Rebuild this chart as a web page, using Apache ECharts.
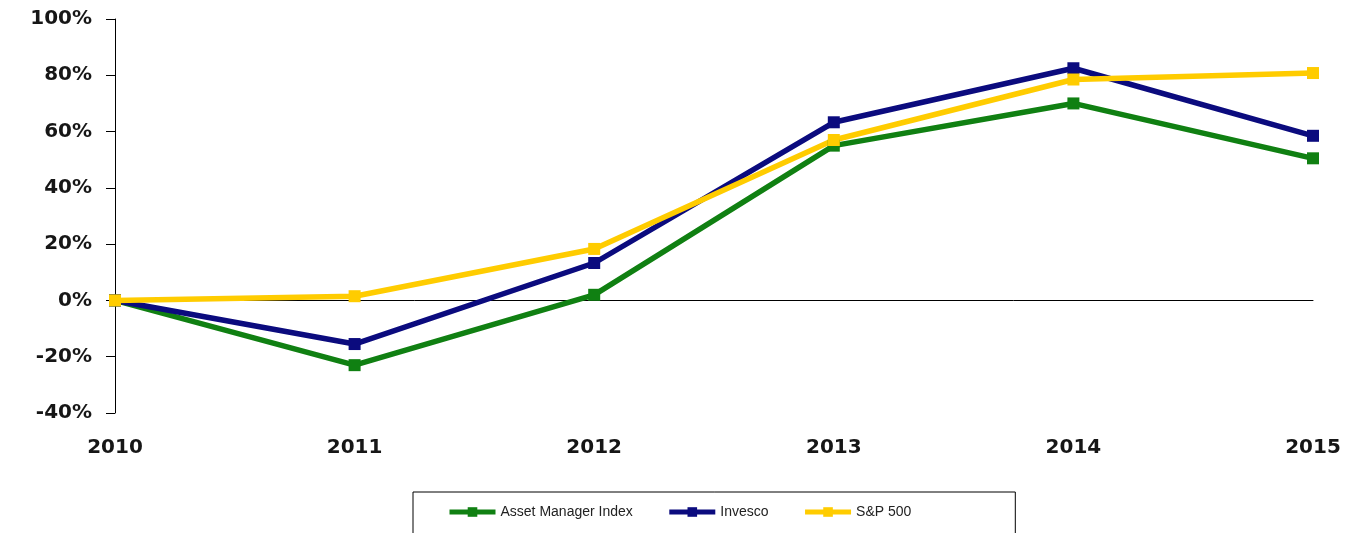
<!DOCTYPE html>
<html>
<head>
<meta charset="utf-8">
<script src="https://cdn.jsdelivr.net/npm/echarts@6/dist/echarts.min.js"></script>
<style>
html,body{margin:0;padding:0;background:#fff;}
#chart{width:1356px;height:533px;}
</style>
</head>
<body>
<div id="chart"></div>
<script>
var years = ['2010', '2011', '2012', '2013', '2014', '2015'];
var assetManagerIndex = [0, -23, 2, 55, 70, 50.5];
var invesco = [0, -15.5, 13.3, 63.3, 82.5, 58.5];
var sp500 = [0, 1.5, 18.3, 57, 78.5, 80.8];
var yTicks = { min: -40, max: 100, interval: 20 };

var axisFont = { fontFamily: 'DejaVu Sans', fontWeight: 'bold', fontSize: 20, color: '#161616' };

function mkSeries(name, data, color) {
  return {
    name: name,
    type: 'line',
    data: data,
    xAxisIndex: 0,
    symbol: 'rect',
    symbolSize: 12,
    lineStyle: { color: color, width: 5.5 },
    itemStyle: { color: color },
    emphasis: { disabled: true }
  };
}

var chart = echarts.init(document.getElementById('chart'), null, { renderer: 'canvas' });
chart.setOption({
  animation: false,
  backgroundColor: '#ffffff',
  grid: { left: 115, right: 43, top: 19, bottom: 120, containLabel: false },
  legend: {
    left: 413,
    top: 492,
    orient: 'horizontal',
    padding: [13, 104, 40, 34],
    borderColor: '#000',
    borderWidth: 1,
    itemWidth: 46,
    itemHeight: 12,
    itemGap: 34,
    lineStyle: { width: 5 },
    textStyle: { fontFamily: 'Liberation Sans', fontSize: 14, color: '#222' },
    data: ['Asset Manager Index', 'Invesco', 'S&P 500']
  },
  xAxis: [
    {
      type: 'category',
      data: years,
      boundaryGap: false,
      axisLine: { show: true, onZero: true, lineStyle: { color: '#000', width: 1 } },
      axisTick: { show: false },
      axisLabel: { show: false },
      splitLine: { show: false }
    },
    {
      type: 'category',
      data: years,
      position: 'bottom',
      boundaryGap: false,
      axisLine: { show: false, onZero: false },
      axisTick: { show: false },
      axisLabel: Object.assign({ show: true, margin: 25 }, axisFont),
      splitLine: { show: false }
    }
  ],
  yAxis: {
    type: 'value',
    min: yTicks.min,
    max: yTicks.max,
    interval: yTicks.interval,
    axisLine: { show: true, onZero: false, lineStyle: { color: '#000', width: 1 } },
    axisTick: { show: true, length: 9, lineStyle: { color: '#000' } },
    axisLabel: Object.assign({ margin: 23, formatter: '{value}%' }, axisFont),
    splitLine: { show: false }
  },
  series: [
    mkSeries('Asset Manager Index', assetManagerIndex, '#108012'),
    mkSeries('Invesco', invesco, '#0b0b7e'),
    mkSeries('S&P 500', sp500, '#ffcc00')
  ]
});
</script>
</body>
</html>
